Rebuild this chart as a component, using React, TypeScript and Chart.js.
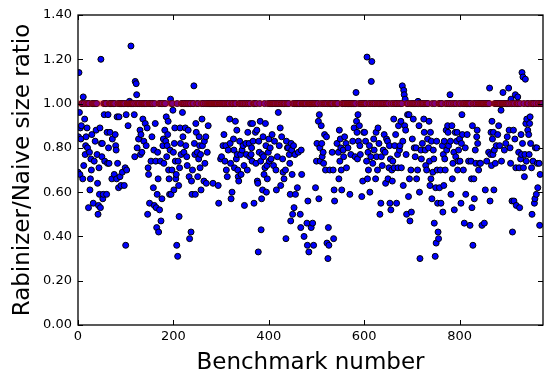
import React, { useEffect, useRef } from "react";
import { Chart, registerables } from "chart.js";

Chart.register(...registerables);

// Rabinizer / naive size ratio per benchmark number (index = benchmark number)
const ratios000 = [
  0.69, 0.85, 1.14, 0.96, 0.68, 0.89, 0.84, 0.9, 1, 1,
  0.66, 1.03, 0.72, 1, 0.93, 0.77, 0.81, 0.85, 1, 0.89,
  0.8, 1, 0.53, 1, 0.78, 0.61, 0.66, 0.75, 0.7, 0.86,
  1, 1, 0.55, 1, 0.74, 1, 0.83, 1, 0.88, 1,
  0.77, 0.64, 0.5, 0.54, 0.71, 0.59, 0.89, 0.53, 1.2, 0.82,
];
const ratios050 = [
  0.76, 0.82, 0.57, 0.59, 1, 0.95, 0.74, 1, 1, 1,
  0.59, 0.87, 0.73, 0.95, 0.8, 0.73, 1, 0.87, 1, 1,
  1, 0.66, 0.84, 1, 1, 1, 0.68, 1, 0.86, 0.81,
  0.79, 0.66, 0.94, 0.73, 1, 0.62, 0.94, 1, 0.67, 1,
  0.63, 1, 1, 0.69, 1, 1, 1, 0.63, 1, 0.71,
];
const ratios100 = [
  0.36, 0.95, 0.7, 1, 1, 0.9, 1, 1, 1.01, 1,
  1, 1.26, 1, 1, 1, 1, 1, 1, 0.95, 0.76,
  1.1, 1, 1.09, 1.04, 0.8, 1, 1, 0.84, 1, 1,
  0.88, 0.77, 0.86, 1, 0.78, 1, 0.93, 1, 0.83, 1,
  1, 0.91, 1, 0.81, 1, 0.89, 0.5, 0.71, 0.68, 1,
];
const ratios150 = [
  0.55, 1, 1, 0.74, 1, 0.85, 1, 1, 0.62, 0.79,
  0.54, 1, 0.91, 0.74, 0.53, 0.44, 0.59, 0.78, 0.66, 0.42,
  1, 0.52, 1, 0.74, 0.47, 1, 0.57, 1, 0.81, 0.84,
  0.73, 1, 0.88, 1, 0.83, 0.94, 0.76, 0.81, 0.86, 0.92,
  0.7, 0.66, 0.59, 0.79, 1.02, 0.59, 1, 0.7, 1, 0.97,
];
const ratios200 = [
  0.78, 0.61, 0.82, 0.89, 0.74, 0.66, 0.68, 0.36, 1, 0.31,
  0.74, 0.63, 0.49, 0.71, 0.89, 0.82, 0.77, 1, 1, 0.96,
  0.85, 1, 0.78, 1, 1, 0.89, 0.81, 1, 0.76, 0.72,
  1, 0.88, 1, 0.67, 0.39, 1, 1, 0.42, 0.65, 0.59,
  0.7, 1, 1, 1.08, 0.82, 0.77, 0.59, 0.91, 0.87, 1,
];
const ratios250 = [
  0.78, 0.67, 1, 0.75, 0.85, 0.81, 0.71, 0.77, 0.61, 1,
  0.93, 0.81, 1, 1, 0.65, 0.83, 0.73, 1, 0.85, 0.64,
  1, 0.78, 1, 0.9, 1, 1, 1, 1, 1, 1,
  1, 1, 1, 0.64, 1, 1, 1, 1, 1, 1,
  1, 1, 1, 1, 0.63, 0.55, 1, 1, 1, 0.75,
];
const ratios300 = [
  1, 0.76, 1, 1, 0.81, 1, 0.86, 1, 0.74, 1,
  0.81, 0.7, 1, 0.67, 1, 0.79, 1, 1, 0.93, 0.82,
  0.73, 0.57, 1, 0.6, 1, 1, 0.84, 0.79, 0.71, 1,
  0.92, 1, 0.75, 0.88, 0.77, 0.7, 0.67, 0.65, 1, 0.83,
  1, 0.77, 0.68, 1, 0.79, 1, 0.81, 1, 0.72, 0.54,
];
const ratios350 = [
  1, 1, 0.82, 0.77, 1, 0.7, 0.87, 1, 1, 0.82,
  0.76, 1, 0.91, 0.77, 0.8, 0.74, 0.91, 0.83, 1, 0.55,
  1, 1, 0.87, 0.73, 1, 0.88, 0.65, 0.64, 0.33, 0.83,
  0.78, 1, 0.92, 0.74, 0.43, 0.57, 0.77, 0.61, 0.85, 0.76,
  0.68, 1, 0.71, 0.91, 0.81, 0.6, 0.72, 0.66, 1, 0.78,
];
const ratios400 = [
  0.84, 0.74, 1, 0.8, 1, 0.75, 1, 0.86, 1, 1,
  0.72, 1, 0.83, 1, 1, 0.7, 0.61, 1, 0.76, 1,
  0.96, 1, 0.81, 1, 0.89, 0.63, 1, 0.85, 1, 0.75,
  0.69, 1, 0.66, 1, 1, 0.7, 0.39, 0.83, 1, 0.8,
  1, 0.8, 1, 0.77, 0.73, 0.59, 0.47, 0.82, 0.79, 0.68,
];
const ratios450 = [
  0.5, 1, 0.81, 0.53, 1, 0.77, 0.59, 1, 1, 1,
  0.62, 1, 0.78, 1, 1, 1, 0.5, 0.44, 0.79, 0.68,
  1, 1, 1, 1, 0.4, 1, 1, 1, 1, 1,
  0.46, 0.36, 0.56, 1, 0.33, 1, 1, 1, 1, 0.44,
  1, 1, 0.46, 1, 0.36, 1, 1, 1, 0.62, 1,
];
const ratios500 = [
  0.74, 0.82, 1, 1, 0.92, 0.57, 0.95, 0.8, 0.74, 1,
  0.9, 0.82, 0.76, 1, 0.78, 0.73, 1, 0.86, 1, 0.7,
  1, 0.85, 0.37, 1, 0.3, 0.44, 0.36, 1, 0.7, 1,
  1, 1, 1, 0.78, 1, 0.7, 0.39, 0.61, 0.56, 1,
  1, 1, 1, 0.82, 1, 1, 0.78, 0.66, 0.88, 0.74,
];
const ratios550 = [
  0.84, 0.8, 0.7, 0.61, 1, 1, 0.79, 0.76, 1, 0.85,
  1, 1, 0.82, 0.71, 1, 1, 0.8, 1, 1, 1,
  0.59, 1, 0.77, 1, 1, 1, 0.83, 1, 1, 0.89,
  1, 0.76, 1, 1.05, 0.92, 0.87, 0.75, 0.95, 0.83, 1,
  0.9, 0.81, 0.77, 1, 1, 0.58, 1, 0.65, 1, 0.87,
];
const ratios600 = [
  1, 0.87, 1, 0.83, 1, 0.74, 1.21, 0.66, 0.78, 0.7,
  1, 0.81, 0.6, 1, 0.76, 1.1, 1.19, 1, 0.73, 1,
  0.84, 0.79, 1, 1, 0.66, 0.87, 0.76, 1, 0.7, 0.89,
  1, 0.82, 1, 0.5, 1, 0.55, 0.76, 1, 0.72, 1,
  0.79, 1, 0.86, 1, 0.78, 0.64, 1, 0.84, 1, 0.83,
];
const ratios650 = [
  0.66, 1, 0.71, 0.81, 0.55, 0.75, 0.52, 1, 0.7, 0.65,
  0.74, 1, 0.93, 0.71, 0.81, 1, 0.86, 1, 0.55, 1,
  0.77, 0.71, 0.9, 1, 0.79, 0.81, 1, 0.92, 0.71, 1,
  1.08, 0.83, 0.63, 1.06, 1.04, 0.9, 1.02, 0.88, 0.77, 0.5,
  1, 0.95, 1, 0.58, 0.95, 0.66, 0.47, 1, 0.7, 0.51,
];
const ratios700 = [
  1, 0.84, 1, 0.93, 1, 0.8, 1, 0.76, 1, 0.8,
  0.66, 1, 0.7, 1.01, 1, 0.9, 0.6, 0.3, 1, 0.79,
  0.75, 1, 0.82, 1, 1, 0.93, 0.87, 1, 0.79, 0.72,
  1, 0.7, 1, 0.84, 1, 0.8, 0.92, 0.74, 0.63, 0.87,
  0.66, 0.83, 0.57, 1, 0.69, 0.79, 0.75, 0.46, 1, 0.31,
];
const ratios750 = [
  0.62, 0.37, 0.83, 0.7, 0.55, 0.42, 0.39, 1, 0.62, 1,
  0.7, 0.55, 1, 1, 0.81, 0.51, 0.77, 0.63, 0.83, 0.75,
  0.7, 1, 0.88, 0.79, 1, 0.9, 0.87, 0.81, 1, 1,
  1.04, 0.83, 0.59, 1, 0.9, 0.66, 0.73, 1, 0.78, 0.52,
  1, 0.87, 0.76, 1, 0.83, 0.87, 0.7, 0.74, 0.79, 1,
];
const ratios800 = [
  0.84, 0.74, 1, 0.55, 0.82, 0.95, 0.86, 1, 0.7, 1,
  0.46, 1, 0.8, 0.59, 1, 1, 0.86, 1, 1, 0.74,
  1, 1, 0.45, 1, 0.74, 0.66, 0.53, 0.9, 0.36, 1,
  0.66, 0.57, 1, 0.79, 0.73, 1, 0.85, 0.88, 0.82, 1,
  0.7, 1, 0.73, 1, 0.73, 1, 1, 0.45, 1, 1,
];
const ratios850 = [
  1, 1, 0.46, 1, 0.61, 1, 1, 0.74, 1, 1,
  1, 0.78, 1, 1.07, 0.56, 0.77, 0.87, 0.72, 0.92, 0.84,
  0.77, 0.87, 0.61, 0.79, 1, 0.73, 1, 0.81, 1, 1,
  0.86, 1, 0.9, 1, 0.81, 1, 1, 0.97, 0.74, 1,
  1, 1.05, 1, 1, 0.79, 1, 1, 0.82, 1, 1,
];
const ratios900 = [
  0.85, 1, 1, 1.07, 0.88, 1, 0.8, 0.73, 1.02, 1,
  0.56, 0.42, 1, 0.88, 0.56, 1, 0.84, 1.04, 0.71, 0.54,
  1, 1, 1.03, 1, 0.78, 0.71, 0.53, 1, 0.75, 0.86,
  0.77, 1.14, 0.82, 1.12, 0.71, 1, 0.67, 0.77, 1.11, 0.91,
  0.74, 0.93, 1, 0.88, 1, 0.86, 0.77, 0.91, 0.94, 0.82,
];
const ratios950 = [
  1, 0.71, 0.5, 1, 0.74, 1, 1, 0.55, 0.57, 0.8,
  1, 0.59, 0.8, 0.73, 0.62, 1, 1, 0.73, 0.45, 0.68,
  1, 1, 1, 1, 1,
];

const ratioChunks = [
  ratios000, ratios050, ratios100, ratios150, ratios200, ratios250, ratios300,
  ratios350, ratios400, ratios450, ratios500, ratios550, ratios600, ratios650,
  ratios700, ratios750, ratios800, ratios850, ratios900, ratios950,
];

const xTickValues = [0, 200, 400, 600, 800];
const yTickValues = [0, 0.2, 0.4, 0.6, 0.8, 1.0, 1.2, 1.4];
const xRange = [0, 975];
const yRange = [0, 1.4];
// parity reference line (ratio = 1)
const parityX = [0, 975];
const parityY = [1, 1];

const FONT = "DejaVu Sans";

// Half-transparent red parity line, drawn over the points through the chart's scales.
const parityPlugin = {
  id: "parityLine",
  afterDatasetsDraw(chart: any) {
    const ctx: CanvasRenderingContext2D = chart.ctx;
    const xs = chart.scales.x;
    const ys = chart.scales.y;
    ctx.save();
    ctx.globalAlpha = 0.5;
    ctx.strokeStyle = "rgb(255, 0, 0)";
    ctx.lineWidth = 6;
    ctx.lineCap = "butt";
    ctx.beginPath();
    for (let i = 0; i < parityX.length; i++) {
      const px = xs.getPixelForValue(parityX[i]);
      const py = ys.getPixelForValue(parityY[i]);
      if (i === 0) ctx.moveTo(px, py);
      else ctx.lineTo(px, py);
    }
    ctx.stroke();
    ctx.restore();
  },
};

// matplotlib-style frame with inward ticks on all four sides
const framePlugin = {
  id: "mplFrame",
  afterDraw(chart: any) {
    const { ctx, chartArea, scales } = chart;
    const { left, right, top, bottom } = chartArea;
    const tickLen = 5;
    ctx.save();
    ctx.globalAlpha = 1;
    ctx.strokeStyle = "#000";
    ctx.lineWidth = 1;
    ctx.beginPath();
    for (const v of xTickValues) {
      const px = Math.round(scales.x.getPixelForValue(v)) + 0.5;
      ctx.moveTo(px, bottom);
      ctx.lineTo(px, bottom - tickLen);
      ctx.moveTo(px, top);
      ctx.lineTo(px, top + tickLen);
    }
    for (const v of yTickValues) {
      const py = Math.round(scales.y.getPixelForValue(v)) + 0.5;
      ctx.moveTo(left, py);
      ctx.lineTo(left + tickLen, py);
      ctx.moveTo(right, py);
      ctx.lineTo(right - tickLen, py);
    }
    ctx.stroke();
    ctx.lineWidth = 1.3;
    ctx.strokeRect(left, top, right - left, bottom - top);
    ctx.restore();
  },
};

export default function App() {
  const canvasRef = useRef<HTMLCanvasElement>(null);

  useEffect(() => {
    document.body.style.margin = "0";
    const ratios = ratioChunks.flat();
    const points = ratios.map((y, i) => ({ x: i, y }));

    const chart = new Chart(canvasRef.current as HTMLCanvasElement, {
      type: "scatter",
      data: {
        datasets: [
          {
            label: "ratio",
            data: points,
            backgroundColor: "#0000ff",
            borderColor: "#000000",
            borderWidth: 1,
            pointRadius: 3,
            clip: 0,
          } as any,
        ],
      },
      options: {
        responsive: false,
        animation: false,
        devicePixelRatio: 1,
        layout: { padding: { top: 15, right: 9, left: 0, bottom: 0 } },
        plugins: {
          legend: { display: false },
          tooltip: { enabled: false },
        },
        scales: {
          x: {
            type: "linear",
            min: xRange[0],
            max: xRange[1],
            afterBuildTicks: (s: any) => {
              s.ticks = xTickValues.map((value) => ({ value }));
            },
            afterFit: (s: any) => {
              s.height = 60;
            },
            grid: { display: false, drawTicks: false },
            border: { display: false },
            ticks: {
              color: "#000",
              font: { family: FONT, size: 13 },
              padding: 4,
              maxRotation: 0,
              autoSkip: false,
              callback: (v: any) => String(v),
            },
            title: {
              display: true,
              text: "Benchmark number",
              color: "#000",
              font: { family: FONT, size: 23 },
              padding: { top: 0, bottom: 8 },
            },
          },
          y: {
            type: "linear",
            min: yRange[0],
            max: yRange[1],
            afterBuildTicks: (s: any) => {
              s.ticks = yTickValues.map((value) => ({ value }));
            },
            afterFit: (s: any) => {
              s.width = 78;
            },
            grid: { display: false, drawTicks: false },
            border: { display: false },
            ticks: {
              color: "#000",
              font: { family: FONT, size: 13 },
              padding: 6,
              autoSkip: false,
              callback: (v: any) => Number(v).toFixed(2),
            },
            title: {
              display: true,
              text: "Rabinizer/Naive size ratio",
              color: "#000",
              font: { family: FONT, size: 23 },
              padding: { top: 9, bottom: 0 },
            },
          },
        },
      } as any,
      plugins: [parityPlugin, framePlugin],
    });
    return () => chart.destroy();
  }, []);

  return (
    <div style={{ width: 552, height: 385 }}>
      <canvas ref={canvasRef} width={552} height={385} />
    </div>
  );
}
